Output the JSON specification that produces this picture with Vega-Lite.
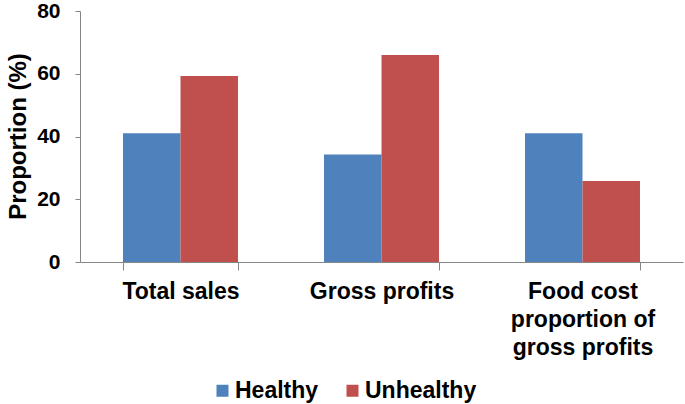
{
  "$schema": "https://vega.github.io/schema/vega-lite/v6.json",
  "autosize": "none",
  "width": 603,
  "height": 251,
  "padding": {"left": 80, "top": 11, "right": 2, "bottom": 142},
  "background": "white",
  "config": {
    "font": "Liberation Sans",
    "view": {"stroke": null}
  },
  "data": {
    "values": [
      {"category": "Total sales", "group": "Healthy", "value": 41.0},
      {"category": "Total sales", "group": "Unhealthy", "value": 59.3},
      {"category": "Gross profits", "group": "Healthy", "value": 34.3},
      {"category": "Gross profits", "group": "Unhealthy", "value": 66.0},
      {"category": "Food cost proportion of gross profits", "group": "Healthy", "value": 41.0},
      {"category": "Food cost proportion of gross profits", "group": "Unhealthy", "value": 25.8}
    ]
  },
  "mark": {"type": "bar"},
  "encoding": {
    "x": {
      "field": "category",
      "type": "nominal",
      "sort": null,
      "scale": {"paddingInner": 0.428, "paddingOuter": 0.214},
      "axis": {
        "title": null,
        "labelAngle": 0,
        "labelFont": "Liberation Sans",
        "labelFontSize": 23,
        "labelFontWeight": "bold",
        "labelColor": "black",
        "labelLineHeight": 28,
        "labelExpr": "datum.value == 'Food cost proportion of gross profits' ? ['Food cost', 'proportion of', 'gross profits'] : datum.value",
        "tickBand": "extent",
        "tickSize": 8,
        "tickColor": "#868686",
        "domainColor": "#868686",
        "labelPadding": 10
      }
    },
    "xOffset": {"field": "group", "type": "nominal", "scale": {"paddingInner": 0, "paddingOuter": 0}},
    "y": {
      "field": "value",
      "type": "quantitative",
      "scale": {"domain": [0, 80]},
      "axis": {
        "title": "Proportion (%)",
        "values": [0, 20, 40, 60, 80],
        "grid": false,
        "labelFont": "Liberation Sans",
        "labelFontSize": 21,
        "labelFontWeight": "bold",
        "labelColor": "black",
        "labelPadding": 15,
        "tickSize": 5,
        "tickColor": "#868686",
        "domainColor": "#868686",
        "titleFont": "Liberation Sans",
        "titleFontSize": 24,
        "titleFontWeight": "bold",
        "titleColor": "black",
        "titleAngle": -90,
        "titleX": -62,
        "titleY": 125,
        "titleAlign": "center",
        "titleBaseline": "middle"
      }
    },
    "color": {
      "field": "group",
      "type": "nominal",
      "scale": {"domain": ["Healthy", "Unhealthy"], "range": ["#4F81BD", "#C0504D"]},
      "legend": {
        "title": null,
        "orient": "none",
        "direction": "horizontal",
        "legendX": 131,
        "legendY": 368,
        "symbolType": "square",
        "symbolSize": 144,
        "symbolStrokeWidth": 0,
        "labelFont": "Liberation Sans",
        "labelFontSize": 23,
        "labelFontWeight": "bold",
        "labelColor": "black",
        "labelOffset": 1,
        "columnPadding": 22
      }
    }
  }
}
